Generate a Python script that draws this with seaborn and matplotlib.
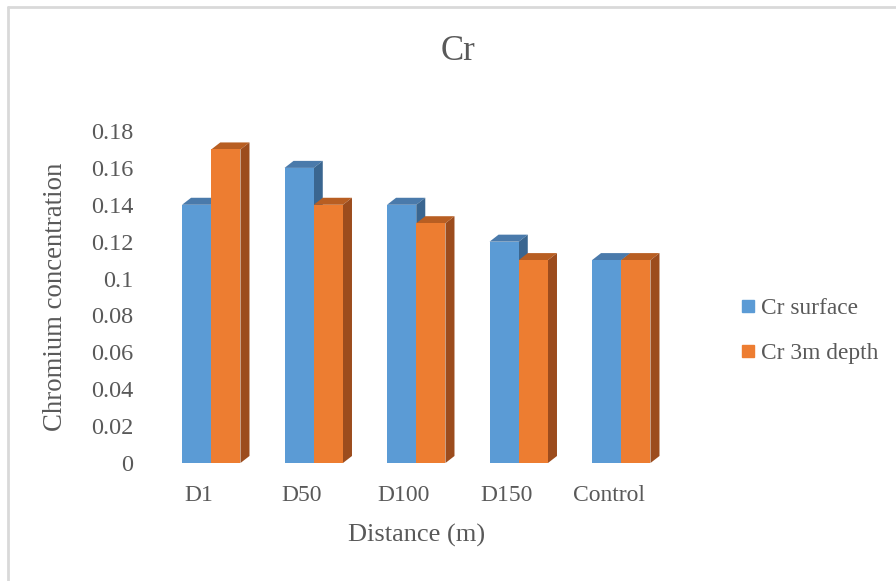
import numpy as np
import pandas as pd
import seaborn as sns
import matplotlib.pyplot as plt
from matplotlib.patches import Polygon
from matplotlib.lines import Line2D

# Chromium concentration by distance from source
categories = ["D1", "D50", "D100", "D150", "Control"]
series_names = ["Cr surface", "Cr 3m depth"]
cr_surface = [0.14, 0.16, 0.14, 0.12, 0.11]
cr_depth = [0.17, 0.14, 0.13, 0.11, 0.11]
y_ticks = [0, 0.02, 0.04, 0.06, 0.08, 0.1, 0.12, 0.14, 0.16, 0.18]
y_tick_labels = ["0", "0.02", "0.04", "0.06", "0.08", "0.1", "0.12", "0.14", "0.16", "0.18"]

front_colors = ["#5B9BD5", "#ED7D31"]
top_colors = ["#4A7AAB", "#B85E22"]
side_colors = ["#3A6690", "#9C4C1D"]
text_color = "#595959"

df = pd.DataFrame({
    "Distance": categories * 2,
    "Series": [series_names[0]] * len(categories) + [series_names[1]] * len(categories),
    "Value": cr_surface + cr_depth,
})

sns.set_theme(style="white")
plt.rcParams["font.family"] = ["Liberation Serif", "DejaVu Serif"]

fig = plt.figure(figsize=(8.96, 5.81), dpi=100)
ax = fig.add_axes([160 / 896, 118 / 581, 512.5 / 896, 332 / 581])

sns.barplot(data=df, x="Distance", y="Value", hue="Series", order=categories,
            hue_order=series_names, palette=front_colors, width=0.57,
            saturation=1, ax=ax, legend=False, linewidth=0)

for container in ax.containers:
    for bar in container:
        bar.set_zorder(2)

ax.set_xlim(-0.5, 4.5)
ax.set_ylim(0, 0.18)

# Extruded 3D look: depth offsets in data units, drawn behind the front faces
dx = 0.088
dy = 0.0038
for container, top_c, side_c in zip(ax.containers, top_colors, side_colors):
    for bar in container:
        x0 = bar.get_x()
        w = bar.get_width()
        h = bar.get_height()
        x1 = x0 + w
        top = Polygon([(x0, h), (x1, h), (x1 + dx, h + dy), (x0 + dx, h + dy)],
                      closed=True, facecolor=top_c, edgecolor="none", clip_on=False, zorder=1)
        side = Polygon([(x1, 0), (x1 + dx, dy), (x1 + dx, h + dy), (x1, h)],
                       closed=True, facecolor=side_c, edgecolor="none", clip_on=False, zorder=1)
        ax.add_patch(top)
        ax.add_patch(side)

for s in ax.spines.values():
    s.set_visible(False)

ax.set_yticks(y_ticks)
ax.set_yticklabels(y_tick_labels)
ax.set_xticks([i - 0.12 for i in range(len(categories))])
ax.set_xticklabels(categories)
ax.tick_params(axis="y", length=0, pad=19, labelsize=17.5, labelcolor=text_color)
ax.tick_params(axis="x", length=0, pad=16, labelsize=17, labelcolor=text_color)

ax.set_xlabel("Distance (m)", fontsize=19, color=text_color, labelpad=13)
ax.set_ylabel("Chromium concentration", fontsize=19.3, color=text_color, labelpad=17)
fig.text(458 / 896, 1 - 51 / 581, "Cr", ha="center", va="center", fontsize=25, color=text_color)

handles = [Line2D([], [], marker="s", linestyle="none", markersize=9,
                  markerfacecolor=c, markeredgecolor=c) for c in front_colors]
fig.legend(handles, series_names, loc="center left", bbox_to_anchor=(739 / 896, 1 - 331 / 581),
           frameon=False, fontsize=16.8, labelcolor=text_color, handletextpad=0.15,
           labelspacing=1.0, handlelength=0.8, borderaxespad=0, borderpad=0)

# Chart area border
fig.add_artist(Line2D([8 / 896, 8 / 896], [0, 1 - 7 / 581], transform=fig.transFigure,
                      color="#D9D9D9", linewidth=2))
fig.add_artist(Line2D([8 / 896, 1], [1 - 7 / 581, 1 - 7 / 581], transform=fig.transFigure,
                      color="#D9D9D9", linewidth=2))

fig.savefig("out.png", dpi=100)
